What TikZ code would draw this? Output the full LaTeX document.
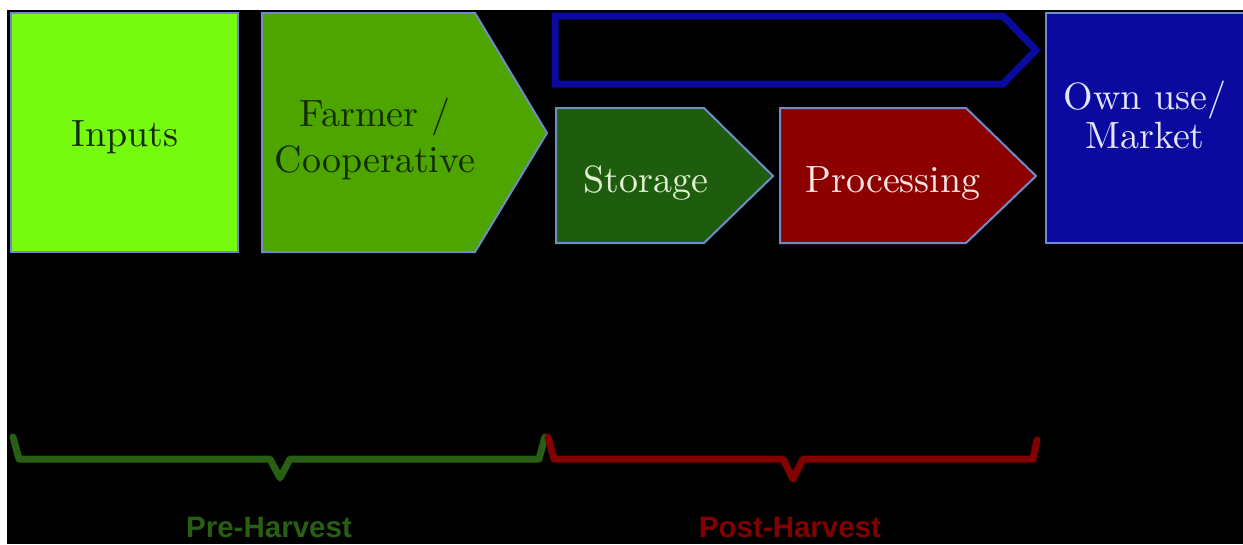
\documentclass[tikz,border=0pt]{standalone}
\usepackage{fontspec}
\newfontfamily\phasefont{Liberation Sans}
\usetikzlibrary{calc}
\definecolor{inputgreen}{RGB}{118,250,16}
\definecolor{farmgreen}{RGB}{78,165,0}
\definecolor{storegreen}{RGB}{30,92,14}
\definecolor{procred}{RGB}{140,0,0}
\definecolor{marketblue}{RGB}{10,10,158}
\definecolor{edgeblue}{RGB}{110,140,200}
\definecolor{pregreen}{RGB}{40,95,20}
\definecolor{postred}{RGB}{130,0,0}
\tikzset{
	stage/.style={draw=edgeblue, line width=0.2mm, line join=miter},
	stagetext/.style={font=\fontsize{10.8}{13.3}\selectfont, align=center, inner sep=0pt},
	phase/.style={line width=0.7mm, line join=round, line cap=round},
	phasetext/.style={font=\phasefont\fontsize{8.4}{10}\selectfont\bfseries, inner sep=0pt}
}

\begin{document}
\begin{tikzpicture}[x=0.1mm, y=-0.1mm]
			%%%%% START %%%%%
			\useasboundingbox (0,0) rectangle (1243,544);
			\fill[white] (0,0) rectangle (1243,544);
			\fill[black] (7,10) rectangle (1243,544);
			
			\draw[stage, fill=inputgreen] (11,13) rectangle (238,252);
			\node[stagetext, text={rgb,255:red,20;green,45;blue,0}] (inputs) at (125,137) {Inputs};
			
			\draw[stage, fill=farmgreen] (262,13) -- (475,13) -- (547,133) -- (475,252) -- (262,252) -- cycle;
			\node[stagetext, text={rgb,255:red,20;green,45;blue,0}] (farmer) at (375,139) {Farmer /\\Cooperative};
			
			\draw[marketblue, line width=0.7mm, line join=miter] (555,16) -- (1003,16) -- (1036,50) -- (1003,84) -- (555,84) -- cycle;
			
			\draw[stage, fill=storegreen] (556,108) -- (704,108) -- (773,176) -- (704,243) -- (556,243) -- cycle;
			\node[stagetext, text={rgb,255:red,225;green,240;blue,210}] (storage) at (646,183) {Storage};
			
			\draw[stage, fill=procred] (780,108) -- (966,108) -- (1036,176) -- (966,243) -- (780,243) -- cycle;
			\node[stagetext, text={rgb,255:red,250;green,228;blue,228}] (processing) at (893,183) {Processing};
			
			\draw[stage, fill=marketblue] (1046,13) rectangle (1246,243);
			\node[stagetext, text={rgb,255:red,228;green,228;blue,255}, font=\fontsize{10.8}{11}\selectfont] (market) at (1145,115) {Own use/\\Market};
			
			\draw[phase, pregreen] (13,437) -- (19,459) -- (270,459) -- (280,478) -- (290,459) -- (539,459) -- (545,437);
			\node[phasetext, text=pregreen] (pre) at (269,527) {Pre-Harvest};
			
			\draw[phase, postred] (548,437) -- (554,459) -- (783,459) -- (793,479) -- (803,459) -- (1033,459) -- (1037,440);
			\node[phasetext, text=postred] (post) at (790,527) {Post-Harvest};
			%%%%% END %%%%%
\end{tikzpicture}
\end{document}
